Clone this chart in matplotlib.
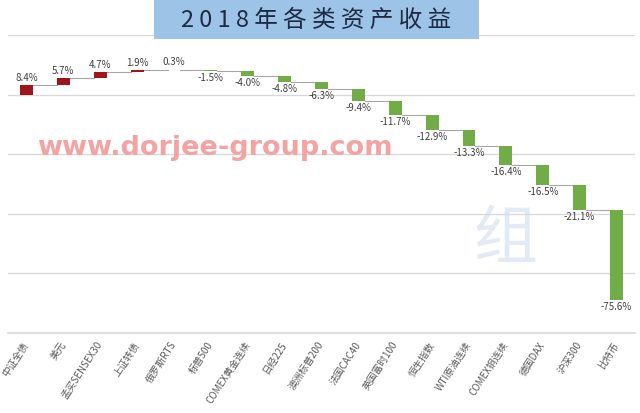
import matplotlib
matplotlib.use('Agg')
import matplotlib.pyplot as plt
from matplotlib.patches import Rectangle
import numpy as np

plt.rcParams['font.family'] = ['Noto Sans CJK SC', 'DejaVu Sans']

# 2018 returns by asset class (%)
assets = ['中证全债', '美元', '孟买SENSEX30', '上证转债', '俄罗斯RTS', '标普500',
          'COMEX黄金连续', '日经225', '澳洲标普200', '法国CAC40', '英国富时100',
          '恒生指数', 'WTI原油连续', 'COMEX铜连续', '德国DAX', '沪深300', '比特币']
returns = [8.4, 5.7, 4.7, 1.9, 0.3, -1.5, -4.0, -4.8, -6.3, -9.4, -11.7,
           -12.9, -13.3, -16.4, -16.5, -21.1, -75.6]

title = '2018年各类资产收益'

red = '#A0141C'
green = '#70AD47'
grey_txt = '#404040'

fig = plt.figure(figsize=(6.4, 4.13), dpi=100)
W, H = 640, 413
ax = fig.add_axes([8 / W, 1 - 333 / H, 627 / W, 298 / H])

vals = np.array(returns)
ends = np.cumsum(vals)
starts = ends - vals
x = np.arange(len(vals))
bw = 0.35

colours = [red if v > 0 else green for v in vals]
ax.bar(x, vals, bottom=starts, width=bw, color=colours, zorder=3)

# connectors between consecutive bars
for i in range(len(vals) - 1):
    ax.plot([x[i] + bw / 2, x[i + 1] - bw / 2], [ends[i], ends[i]],
            color='#A6A6A6', lw=0.8, zorder=2)

# value labels
for i, v in enumerate(vals):
    if v > 0:
        ax.annotate('{:.1f}%'.format(v), (x[i], ends[i]), xytext=(0, 1.5),
                    textcoords='offset points', ha='center', va='bottom',
                    fontsize=7, color=grey_txt, zorder=4)
    else:
        ax.annotate('{:.1f}%'.format(v), (x[i], ends[i]), xytext=(0, -1.5),
                    textcoords='offset points', ha='center', va='top',
                    fontsize=7, color=grey_txt, zorder=4)

ax.set_xlim(-0.5, len(vals) - 0.5)
ax.set_ylim(-200, 50)
ax.set_yticks([50, 0, -50, -100, -150, -200])
ax.yaxis.grid(True, color='#D9D9D9', lw=1.0)
ax.set_axisbelow(True)
ax.tick_params(axis='y', left=False, labelleft=False)
ax.tick_params(axis='x', length=0, pad=7)
for s in ['top', 'right', 'left']:
    ax.spines[s].set_visible(False)
ax.spines['bottom'].set_color('#D9D9D9')
ax.spines['bottom'].set_linewidth(1.2)

ax.set_xticks(x)
ax.set_xticklabels(assets, rotation=57, ha='right', va='center',
                   rotation_mode='anchor', fontsize=7, color='#595959')

# watermarks
fig.text(215 / W, 1 - 148 / H, 'www.dorjee-group.com', fontsize=19.5,
         fontweight='bold', color='#F4A3A3', ha='center', va='center',
         family='DejaVu Sans', zorder=5)
fig.text(505 / W, 1 - 240 / H, '组', fontsize=46, color='#C9DAEE',
         alpha=0.55, ha='center', va='center', zorder=1)

# title box
fig.patches.append(Rectangle((154 / W, 1 - 39 / H), 325 / W, 39 / H,
                             transform=fig.transFigure, facecolor='#9DC3E6',
                             edgecolor='none', zorder=6))
fig.text(316 / W, 1 - 20 / H, ' '.join(title), fontsize=17,
         color='#1C2A44', ha='center', va='center', zorder=7)

fig.savefig('out.png', dpi=100)
